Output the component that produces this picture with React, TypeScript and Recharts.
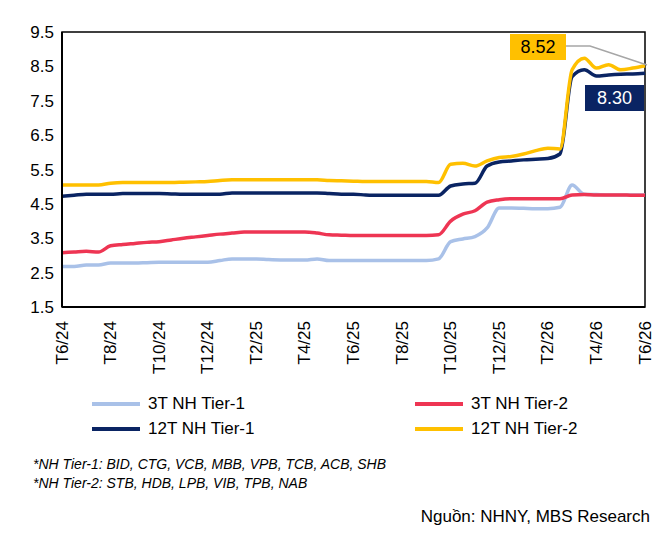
import { LineChart, Line, XAxis, YAxis, ReferenceArea } from "recharts";

const tickLabels = ["T6/24", "T8/24", "T10/24", "T12/24", "T2/25", "T4/25", "T6/25", "T8/25", "T10/25", "T12/25", "T2/26", "T4/26", "T6/26"];

// half-month steps, T6/24 .. T6/26
const t1_3m = [2.68, 2.68, 2.72, 2.72, 2.78, 2.78, 2.78, 2.79, 2.8, 2.8, 2.8, 2.8, 2.8, 2.85, 2.9, 2.9, 2.9, 2.88, 2.87, 2.87, 2.87, 2.9, 2.85, 2.85, 2.85, 2.85, 2.85, 2.85, 2.85, 2.85, 2.85, 2.9, 3.4, 3.48, 3.55, 3.8, 4.38, 4.38, 4.37, 4.36, 4.36, 4.4, 5.05, 4.78, 4.77, 4.76, 4.76, 4.76, 4.76];
const t2_3m = [3.08, 3.1, 3.12, 3.1, 3.28, 3.32, 3.35, 3.38, 3.4, 3.45, 3.5, 3.54, 3.58, 3.62, 3.65, 3.68, 3.68, 3.68, 3.68, 3.68, 3.68, 3.65, 3.6, 3.59, 3.58, 3.58, 3.58, 3.58, 3.58, 3.58, 3.58, 3.6, 4.0, 4.2, 4.3, 4.55, 4.62, 4.65, 4.65, 4.65, 4.65, 4.65, 4.76, 4.77, 4.76, 4.76, 4.76, 4.75, 4.75];
const t1_12m = [4.72, 4.75, 4.78, 4.78, 4.78, 4.8, 4.8, 4.8, 4.8, 4.79, 4.78, 4.78, 4.78, 4.78, 4.82, 4.82, 4.82, 4.82, 4.82, 4.82, 4.82, 4.82, 4.8, 4.78, 4.78, 4.76, 4.75, 4.75, 4.75, 4.75, 4.75, 4.75, 5.02, 5.08, 5.1, 5.6, 5.72, 5.75, 5.78, 5.8, 5.82, 5.95, 8.2, 8.4, 8.22, 8.25, 8.27, 8.28, 8.3];
const t2_12m = [5.05, 5.05, 5.05, 5.05, 5.1, 5.12, 5.12, 5.12, 5.12, 5.12, 5.13, 5.14, 5.15, 5.18, 5.2, 5.2, 5.2, 5.2, 5.2, 5.2, 5.2, 5.2, 5.18, 5.17, 5.16, 5.15, 5.15, 5.15, 5.15, 5.15, 5.15, 5.12, 5.65, 5.68, 5.6, 5.75, 5.85, 5.88, 5.95, 6.05, 6.12, 6.1, 8.4, 8.74, 8.45, 8.55, 8.4, 8.45, 8.52];

const data = t1_3m.map((v, i) => ({ i, a: v, b: t2_3m[i], c: t1_12m[i], d: t2_12m[i] }));

const font = "'Liberation Sans', Arial, sans-serif";

function XTick({ x, y, payload }: any) {
  return (
    <text x={x} y={y + 6} transform={`rotate(-90 ${x} ${y + 6})`} textAnchor="end" dominantBaseline="central" fontSize={17} fill="#000" fontFamily={font}>
      {tickLabels[payload.value / 4]}
    </text>
  );
}

const legend = [
  { name: "3T NH Tier-1", color: "#A9C1E8", x: 92, y: 405 },
  { name: "3T NH Tier-2", color: "#EE3553", x: 415, y: 405 },
  { name: "12T NH Tier-1", color: "#0A2463", x: 92, y: 430 },
  { name: "12T NH Tier-2", color: "#FFC000", x: 415, y: 430 },
];

export default function App() {
  return (
    <div style={{ position: "relative", width: 670, height: 537, margin: -8, background: "#fff", fontFamily: font }}>
      <LineChart width={670} height={385} data={data} margin={{ top: 32, right: 25, left: 0, bottom: 0 }}>
        <XAxis dataKey="i" type="number" domain={[0, 48]} ticks={[0, 4, 8, 12, 16, 20, 24, 28, 32, 36, 40, 44, 48]} tick={<XTick />} height={78} axisLine={{ stroke: "#000", strokeWidth: 2 }} tickLine={false} />
        <YAxis domain={[1.5, 9.5]} ticks={[1.5, 2.5, 3.5, 4.5, 5.5, 6.5, 7.5, 8.5, 9.5]} width={62} tick={{ fontSize: 17, fill: "#000", fontFamily: font }} tickFormatter={(v) => v.toFixed(1)} axisLine={{ stroke: "#000", strokeWidth: 2 }} tickLine={false} />
        <ReferenceArea x1={0} x2={48} y1={1.5} y2={9.5} fill="none" stroke="#000" strokeWidth={1.5} ifOverflow="visible" />
        <Line dataKey="a" type="monotone" stroke="#A9C1E8" strokeWidth={3.5} dot={false} isAnimationActive={false} />
        <Line dataKey="b" type="monotone" stroke="#EE3553" strokeWidth={3.5} dot={false} isAnimationActive={false} />
        <Line dataKey="c" type="monotone" stroke="#0A2463" strokeWidth={3.5} dot={false} isAnimationActive={false} />
        <Line dataKey="d" type="monotone" stroke="#FFC000" strokeWidth={3.5} dot={false} isAnimationActive={false} />
      </LineChart>
      <svg style={{ position: "absolute", left: 0, top: 0 }} width={670} height={120}>
        <polyline points="566,46 590,46 647,65" fill="none" stroke="#A6A6A6" strokeWidth={1.5} />
      </svg>
      <div style={{ position: "absolute", left: 510, top: 34, width: 56, height: 26, background: "#FFC000", color: "#000", fontSize: 18, display: "flex", alignItems: "center", justifyContent: "center" }}>8.52</div>
      <div style={{ position: "absolute", left: 585, top: 85, width: 59, height: 26, background: "#0A2463", color: "#fff", fontSize: 18, display: "flex", alignItems: "center", justifyContent: "center" }}>8.30</div>
      {legend.map((l) => (
        <div key={l.name} style={{ position: "absolute", left: l.x, top: l.y - 11, display: "flex", alignItems: "center", fontSize: 17 }}>
          <span style={{ width: 48, height: 4, background: l.color, marginRight: 8, display: "inline-block" }} />
          {l.name}
        </div>
      ))}
      <div style={{ position: "absolute", left: 33, top: 455, fontSize: 14, fontStyle: "italic", lineHeight: "19px" }}>
        *NH Tier-1: BID, CTG, VCB, MBB, VPB, TCB, ACB, SHB<br />
        *NH Tier-2: STB, HDB, LPB, VIB, TPB, NAB
      </div>
      <div style={{ position: "absolute", right: 20, top: 507, fontSize: 17 }}>Nguồn: NHNY, MBS Research</div>
    </div>
  );
}
